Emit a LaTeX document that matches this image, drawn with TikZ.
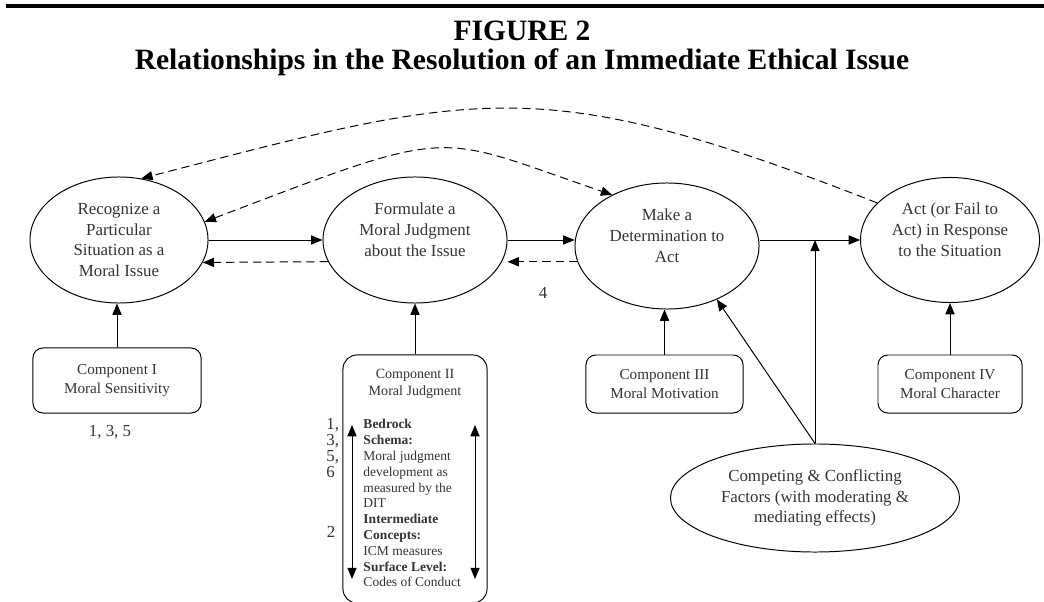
\documentclass[tikz,border=0pt]{standalone}
\usepackage{fontspec}
\setmainfont{Liberation Serif}
\newfontfamily\titlefont{Liberation Serif}
\usetikzlibrary{shapes.geometric, arrows.meta}

\begin{document}
\begin{tikzpicture}[x=0.025cm, y=-0.025cm, line width=0.7pt,
    >={Triangle[length=8pt,width=6.5pt]}]
  \tikzstyle{stage}=[ellipse, draw, inner sep=0pt, align=center, text=black!80,
    font=\fontsize{12}{14.7}\selectfont]
  \tikzstyle{component}=[rectangle, rounded corners=7pt, draw, align=center,
    text=black!80, font=\fontsize{10.8}{13}\selectfont]
  \tikzstyle{note}=[inner sep=0pt, text=black!80, font=\fontsize{12}{14}\selectfont]
  \tikzstyle{back}=[dashed, dash pattern=on 6pt off 3.5pt]
  \useasboundingbox (0,0) rectangle (1044,602);
  \draw[line width=2.5pt] (6,6) -- (1044,6);
  \node[font=\titlefont\bfseries\fontsize{21}{24}\selectfont] (T_1) at (522,31) {FIGURE 2};
  \node[font=\titlefont\bfseries\fontsize{21}{24}\selectfont] (T_2) at (522,62)
    {Relationships in the Resolution of an Immediate Ethical Issue};
  \node[stage, minimum width=4.45cm, minimum height=3.15cm] (S_1) at (119,240)
    {Recognize a\\Particular\\Situation as a\\Moral Issue};
  \node[stage, minimum width=4.6cm, minimum height=3.15cm] (S_2) at (415,240)
    {Formulate a\\Moral Judgment\\about the Issue\\\mbox{}};
  \node[stage, minimum width=4.6cm, minimum height=3.15cm] (S_3) at (667,246)
    {Make a\\Determination to\\Act\\\mbox{}};
  \node[stage, minimum width=4.475cm, minimum height=3.125cm] (S_4) at (950,240)
    {Act (or Fail to\\Act) in Response\\to the Situation\\\mbox{}};
  \node[stage, minimum width=7.225cm, minimum height=2.7cm] (F) at (815,498)
    {Competing \& Conflicting\\Factors (with moderating \&\\mediating effects)};
  \node[component, minimum width=4.2cm, minimum height=1.625cm] (C_1) at (117,380.5)
    {Component I\\Moral Sensitivity};
  \node[component, rounded corners=10pt, minimum width=3.6cm, minimum height=6.2cm] (C_2) at (415,479) {};
  \node[component, minimum width=3.925cm, minimum height=1.45cm] (C_3) at (664.5,384)
    {Component III\\Moral Motivation};
  \node[component, minimum width=3.6cm, minimum height=1.45cm] (C_4) at (950,384)
    {Component IV\\Moral Character};
  \node[note, align=center, font=\fontsize{10}{12.1}\selectfont] (H_2) at (415,383.5)
    {Component II\\Moral Judgment};
  \node[note, anchor=north west, align=left, font=\fontsize{9.6}{11.24}\selectfont] (L_2) at (363,419)
    {\textbf{Bedrock}\\\textbf{Schema:}\\Moral judgment\\development as\\measured by the\\DIT\\
     \textbf{Intermediate}\\\textbf{Concepts:}\\ICM measures\\\textbf{Surface Level:}\\Codes of Conduct};
  \node[note, anchor=north west, align=left, font=\fontsize{12}{11.4}\selectfont] (N_1) at (326,418)
    {1,\\3,\\5,\\6};
  \node[note] (N_2) at (331,532) {2};
  \node[note] (N_3) at (110,432) {1, 3, 5};
  \node[note] (N_4) at (543,293) {4};
  \coordinate (A_1) at (352,425);
  \coordinate (A_2) at (352,579);
  \coordinate (B_1) at (475,425);
  \coordinate (B_2) at (475,579);
  \draw[<->] (A_1) -- (A_2);
  \draw[<->] (B_1) -- (B_2);
  \draw[->] (S_1) -- (S_2);
  \draw[->] (S_2.east) -- (S_3.west |- S_2.east);
  \draw[->] (S_3.east |- S_4.west) -- (S_4.west);
  \draw[->, back] (S_2.194) -- (S_1.345);
  \draw[->, back] (S_3.190) -- (S_3.190 -| S_2.east);
  \draw[->, back] (S_4.153) .. controls (540,71) and (479,91) .. (S_1.70);
  \draw[<->, back] (S_1.12) .. controls (459,125) and (431,133) .. (S_3.137);
  \draw[->] (C_1.north) -- (C_1.north |- S_1.south);
  \draw[->] (C_2.north) -- (C_2.north |- S_2.south);
  \draw[->] (C_3.north) -- (C_3.north |- S_3.south);
  \draw[->] (C_4.north) -- (C_4.north |- S_4.south);
  \draw[->] (F.north) -- (F.north |- S_4.west);
  \draw[->] (F.north) -- (S_3.-47);
\end{tikzpicture}
\end{document}
